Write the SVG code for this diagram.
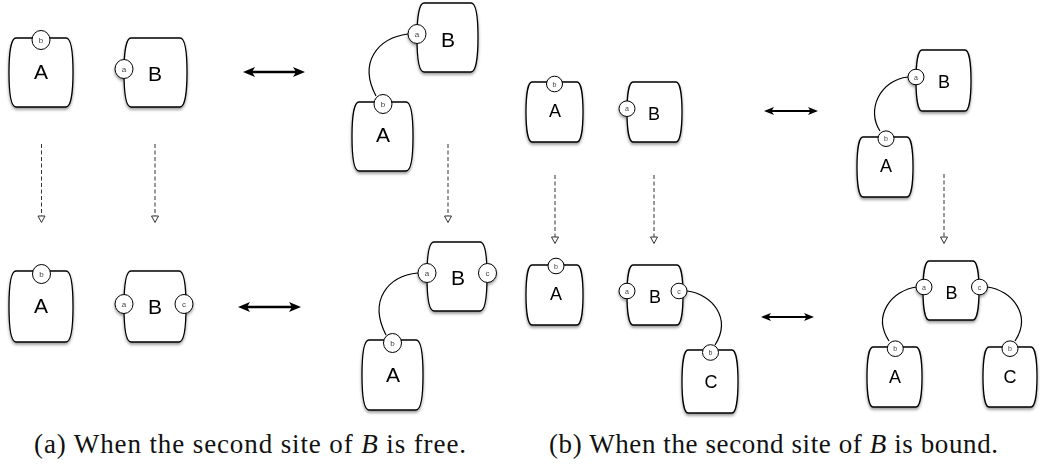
<svg xmlns="http://www.w3.org/2000/svg" width="1040" height="469" viewBox="0 0 1040 469">
<style>
.body{fill:#fff;stroke:#000;stroke-width:1.3}
.site{fill:#fff;stroke:#000;stroke-width:1}
.lbl{font-family:"Liberation Sans",Arial,sans-serif;fill:#000;text-anchor:middle}
.la{font-size:21px}
.lb{font-size:18px}
.sl{font-family:"Liberation Sans",Arial,sans-serif;fill:#444;text-anchor:middle}
.sa{font-size:8px}
.sb{font-size:7px}
.link{fill:none;stroke:#000;stroke-width:1.2}
.dash{fill:none;stroke:#333;stroke-width:1;stroke-dasharray:4 2.5;marker-end:url(#open)}
.dblA{fill:none;stroke:#000;stroke-width:2.5;marker-start:url(#headA);marker-end:url(#headA)}
.dblB{fill:none;stroke:#000;stroke-width:2;marker-start:url(#headB);marker-end:url(#headB)}
.cap{font-family:"Liberation Serif","Times New Roman",serif;font-size:27px;fill:#111}
.node{filter:url(#sh)}
</style>
<defs>
<filter id="sh" x="-20%" y="-20%" width="140%" height="150%">
<feDropShadow dx="0" dy="2" stdDeviation="1.4" flood-color="#000" flood-opacity="0.4"/>
</filter>
<marker id="headA" viewBox="0 0 12 10" refX="5" refY="5" markerWidth="12" markerHeight="10" markerUnits="userSpaceOnUse" orient="auto-start-reverse">
<path d="M0,0 L12,5 L0,10 L3,5 Z" fill="#000"/>
</marker>
<marker id="headB" viewBox="0 0 10 8" refX="4" refY="4" markerWidth="10" markerHeight="8" markerUnits="userSpaceOnUse" orient="auto-start-reverse">
<path d="M0,0 L10,4 L0,8 L2.5,4 Z" fill="#000"/>
</marker>
<marker id="open" viewBox="-1 -1 9 9" refX="0" refY="3.5" markerWidth="9" markerHeight="9" markerUnits="userSpaceOnUse" orient="auto" overflow="visible">
<path d="M0,0 L6.5,3.5 L0,7 Z" fill="#fff" stroke="#333" stroke-width="1"/>
</marker>
</defs>
<rect width="1040" height="469" fill="#fff"/>

<g id="connectors">
<path class="link" d="M408,34 C378,38 358,62 376,96"/>
<path class="link" d="M418,273 C388,276 368,300 386,335"/>
<path class="link" d="M687,291 C712,294 732,318 715,345"/>
<path class="link" d="M908,77 C880,80 866,110 880,131"/>
<path class="link" d="M917,287 C892,290 872,315 889,341"/>
<path class="link" d="M987,287 C1012,290 1032,315 1015,341"/>
<line class="dblA" x1="250" y1="72" x2="298" y2="72"/>
<line class="dblA" x1="245" y1="307" x2="294" y2="307"/>
<line class="dblB" x1="770" y1="111" x2="812" y2="111"/>
<line class="dblB" x1="767" y1="317" x2="808" y2="317"/>
<line class="dash" x1="41.5" y1="144" x2="41.5" y2="216"/>
<line class="dash" x1="155" y1="144" x2="155" y2="216"/>
<line class="dash" x1="448" y1="144" x2="448" y2="216"/>
<line class="dash" x1="555" y1="175" x2="555" y2="237"/>
<line class="dash" x1="654" y1="175" x2="654" y2="237"/>
<line class="dash" x1="944" y1="174" x2="944" y2="237"/>
</g>

<g id="a-A1" class="node">
<path class="body" d="M16,38 H66 C71,38 73,53 73,72.5 C73,92 71,107 66,107 H16 C11,107 9,92 9,72.5 C9,53 11,38 16,38 Z"/>
<ellipse class="site" cx="41" cy="40" rx="9" ry="9.5"/>
<text class="sl sa" x="41" y="43">b</text>
<text class="lbl la" x="41" y="78.5">A</text>
</g>
<g id="a-B1" class="node">
<path class="body" d="M131,38 H180 C185,38 187,53 187,72.5 C187,92 185,107 180,107 H131 C126,107 124,92 124,72.5 C124,53 126,38 131,38 Z"/>
<ellipse class="site" cx="124" cy="69" rx="9" ry="9.5"/>
<text class="sl sa" x="124" y="72">a</text>
<text class="lbl la" x="155" y="80.5">B</text>
</g>
<g id="a-A1b" class="node">
<path class="body" d="M16,271 H66 C71,271 73,287 73,306.5 C73,326 71,342 66,342 H16 C11,342 9,326 9,306.5 C9,287 11,271 16,271 Z"/>
<ellipse class="site" cx="41.5" cy="274" rx="9" ry="9.5"/>
<text class="sl sa" x="41.5" y="277">b</text>
<text class="lbl la" x="41" y="313">A</text>
</g>
<g id="a-B1b" class="node">
<path class="body" d="M131,271 H179 C184,271 186,287 186,306.5 C186,326 184,342 179,342 H131 C126,342 124,326 124,306.5 C124,287 126,271 131,271 Z"/>
<ellipse class="site" cx="124" cy="304" rx="9" ry="9.5"/>
<text class="sl sa" x="124" y="307">a</text>
<ellipse class="site" cx="184" cy="304" rx="9" ry="9.5"/>
<text class="sl sa" x="184" y="307">c</text>
<text class="lbl la" x="155" y="314">B</text>
</g>
<g id="a-B2" class="node">
<path class="body" d="M424,3 H471 C476,3 478,18 478,37.5 C478,57 476,72 471,72 H424 C419,72 417,57 417,37.5 C417,18 419,3 424,3 Z"/>
<ellipse class="site" cx="417" cy="34" rx="9" ry="9.5"/>
<text class="sl sa" x="417" y="37">a</text>
<text class="lbl la" x="448" y="46.5">B</text>
</g>
<g id="a-A2" class="node">
<path class="body" d="M359,102 H406 C411,102 413,117 413,136.5 C413,156 411,171 406,171 H359 C354,171 352,156 352,136.5 C352,117 354,102 359,102 Z"/>
<ellipse class="site" cx="383" cy="104" rx="9" ry="9.5"/>
<text class="sl sa" x="383" y="107">b</text>
<text class="lbl la" x="383" y="142">A</text>
</g>
<g id="a-B3" class="node">
<path class="body" d="M434,242 H480 C485,242 487,257 487,276.5 C487,296 485,311 480,311 H434 C429,311 427,296 427,276.5 C427,257 429,242 434,242 Z"/>
<ellipse class="site" cx="427" cy="273" rx="9" ry="9.5"/>
<text class="sl sa" x="427" y="276">a</text>
<ellipse class="site" cx="487.5" cy="273" rx="9" ry="9.5"/>
<text class="sl sa" x="487.5" y="276">c</text>
<text class="lbl la" x="458" y="285">B</text>
</g>
<g id="a-A3" class="node">
<path class="body" d="M369,340 H416 C421,340 423,355.5 423,375 C423,394.5 421,410 416,410 H369 C364,410 362,394.5 362,375 C362,355.5 364,340 369,340 Z"/>
<ellipse class="site" cx="392.5" cy="343" rx="9" ry="9.5"/>
<text class="sl sa" x="392.5" y="346">b</text>
<text class="lbl la" x="393" y="381.5">A</text>
</g>

<g id="b-A4" class="node">
<path class="body" d="M532,82 H577 C581,82 583,95 583,112 C583,129 581,142 577,142 H532 C528,142 526,129 526,112 C526,95 528,82 532,82 Z"/>
<ellipse class="site" cx="554.5" cy="84" rx="8" ry="7.8"/>
<text class="sl sb" x="554.5" y="86.5">b</text>
<text class="lbl lb" x="555" y="117">A</text>
</g>
<g id="b-B4" class="node">
<path class="body" d="M633,82 H676 C680,82 682,95 682,112 C682,129 680,142 676,142 H633 C629,142 627,129 627,112 C627,95 629,82 633,82 Z"/>
<ellipse class="site" cx="627" cy="108.7" rx="8" ry="7.8"/>
<text class="sl sb" x="627" y="111.2">a</text>
<text class="lbl lb" x="654" y="119.5">B</text>
</g>
<g id="b-A5" class="node">
<path class="body" d="M532,265 H577 C581,265 583,278 583,295 C583,312 581,325 577,325 H532 C528,325 526,312 526,295 C526,278 528,265 532,265 Z"/>
<ellipse class="site" cx="556" cy="266" rx="8" ry="7.8"/>
<text class="sl sb" x="556" y="268.5">b</text>
<text class="lbl lb" x="556" y="300">A</text>
</g>
<g id="b-B5" class="node">
<path class="body" d="M633,265 H677 C681,265 683,278 683,295 C683,312 681,325 677,325 H633 C629,325 627,312 627,295 C627,278 629,265 633,265 Z"/>
<ellipse class="site" cx="627" cy="291" rx="8" ry="7.8"/>
<text class="sl sb" x="627" y="293.5">a</text>
<ellipse class="site" cx="679" cy="291" rx="8" ry="7.8"/>
<text class="sl sb" x="679" y="293.5">c</text>
<text class="lbl lb" x="655" y="303">B</text>
</g>
<g id="b-C5" class="node">
<path class="body" d="M688,350 H732 C736,350 738,364 738,381.5 C738,399 736,413 732,413 H688 C684,413 682,399 682,381.5 C682,364 684,350 688,350 Z"/>
<ellipse class="site" cx="710.5" cy="352.5" rx="8" ry="7.8"/>
<text class="sl sb" x="710.5" y="355">b</text>
<text class="lbl lb" x="711" y="387.5">C</text>
</g>
<g id="b-B6" class="node">
<path class="body" d="M922,50 H965 C969,50 971,63 971,80.5 C971,98 969,111 965,111 H922 C918,111 916,98 916,80.5 C916,63 918,50 922,50 Z"/>
<ellipse class="site" cx="916" cy="77" rx="8" ry="7.8"/>
<text class="sl sb" x="916" y="79.5">a</text>
<text class="lbl lb" x="944" y="87.5">B</text>
</g>
<g id="b-A6" class="node">
<path class="body" d="M863,137 H907 C911,137 913,150 913,167 C913,184 911,197 907,197 H863 C859,197 857,184 857,167 C857,150 859,137 863,137 Z"/>
<ellipse class="site" cx="886" cy="138.7" rx="8" ry="7.8"/>
<text class="sl sb" x="886" y="141.2">b</text>
<text class="lbl lb" x="886" y="172">A</text>
</g>
<g id="b-B7" class="node">
<path class="body" d="M929,261 H973 C977,261 979,274 979,290.5 C979,307 977,320 973,320 H929 C925,320 923,307 923,290.5 C923,274 925,261 929,261 Z"/>
<ellipse class="site" cx="924" cy="287" rx="8" ry="7.8"/>
<text class="sl sb" x="924" y="289.5">a</text>
<ellipse class="site" cx="979.5" cy="287" rx="8" ry="7.8"/>
<text class="sl sb" x="979.5" y="289.5">c</text>
<text class="lbl lb" x="951.5" y="298.5">B</text>
</g>
<g id="b-A7" class="node">
<path class="body" d="M873,347 H916 C920,347 922,360 922,377 C922,394 920,407 916,407 H873 C869,407 867,394 867,377 C867,360 869,347 873,347 Z"/>
<ellipse class="site" cx="895.3" cy="348.7" rx="8" ry="7.8"/>
<text class="sl sb" x="895.3" y="351.2">b</text>
<text class="lbl lb" x="895" y="382.5">A</text>
</g>
<g id="b-C7" class="node">
<path class="body" d="M989,347 H1031 C1035,347 1037,360 1037,377 C1037,394 1035,407 1031,407 H989 C985,407 983,394 983,377 C983,360 985,347 989,347 Z"/>
<ellipse class="site" cx="1010" cy="348.7" rx="8" ry="7.8"/>
<text class="sl sb" x="1010" y="351.2">b</text>
<text class="lbl lb" x="1010" y="382.5">C</text>
</g>

<text class="cap" x="34" y="453" textLength="432" lengthAdjust="spacing">(a) When the second site of <tspan font-style="italic">B</tspan> is free.</text>
<text class="cap" x="549" y="453" textLength="449" lengthAdjust="spacing">(b) When the second site of <tspan font-style="italic">B</tspan> is bound.</text>
</svg>
